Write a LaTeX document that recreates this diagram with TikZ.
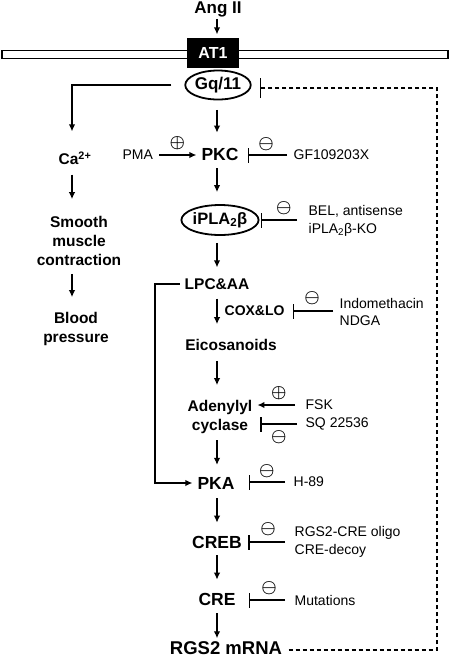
\documentclass[tikz,border=0pt]{standalone}
\usepackage{amsmath}
\usepackage{fontspec}
\setmainfont{Liberation Sans}
\usetikzlibrary{arrows.meta,shapes.geometric}

\begin{document}
\begin{tikzpicture}[x=1pt,y=-1pt,line width=1.3pt,>={Latex[length=7pt,width=6.5pt]}]
    \tikzstyle{big}=[inner sep=0pt, font=\fontsize{17.5}{19}\selectfont\bfseries]
    \tikzstyle{mid}=[inner sep=0pt, align=center, font=\fontsize{15.5}{19}\selectfont\bfseries]
    \tikzstyle{drug}=[inner sep=0pt, anchor=west, align=left, font=\fontsize{14}{17.5}\selectfont]
    \tikzstyle{oval}=[draw, ellipse, line width=1.8pt, inner sep=0pt, font=\fontsize{17}{19}\selectfont\bfseries]
    \tikzstyle{sign}=[inner sep=0pt, font=\fontsize{17}{17}\selectfont]
    \tikzstyle{go}=[->]
    \tikzstyle{stop}=[-{Bar[width=15pt]}]

    \useasboundingbox (0,0) rectangle (450,657);
    \coordinate (axis) at (217,0);
    \coordinate (leftaxis) at (72,0);
    \coordinate (rail) at (155,0);
    \coordinate (loop) at (437,0);

    \node[draw, fill=white, minimum width=446pt, minimum height=7.5pt, inner sep=0pt] (membrane) at (225,54.5) {};
    \node[big, anchor=base, font=\fontsize{17}{19}\selectfont\bfseries] (ang) at (218,13) {Ang II};
    \node[fill=black, text=white, minimum width=52pt, minimum height=30pt, inner sep=0pt,
          font=\fontsize{16}{19}\selectfont\bfseries] (at1) at (213,53) {AT1};
    \node[oval, minimum width=60pt, minimum height=29pt] (gq) at (218,85) {Gq/11};

    \node[mid] (ca) at (75,158) {Ca\textsuperscript{2+}};
    \node[mid] (smooth) at (79,241) {Smooth\\muscle\\contraction};
    \node[mid] (blood) at (76,329) {Blood\\pressure};

    \node[drug] (pma) at (122,155) {PMA};
    \node[big] (pkc) at (220,154) {PKC};
    \node[drug] (gf) at (293,155) {GF109203X};
    \node[oval, minimum width=69pt, minimum height=30pt, font=\fontsize{16.5}{19}\selectfont\bfseries] (ipla) at (220,220) {iPLA\textsubscript{2}β};
    \node[drug] (bel) at (308,221) {BEL, antisense\\iPLA\textsubscript{2}β-KO};
    \node[mid] (lpc) at (217,284) {LPC\&AA};
    \node[drug] (indo) at (339,312) {Indomethacin\\NDGA};
    \node[mid] (eico) at (231,345) {Eicosanoids};
    \node[mid] (ac) at (220,417) {Adenylyl\\cyclase};
    \node[drug] (fsk) at (305,405) {FSK};
    \node[drug] (sq) at (305,424) {SQ 22536};
    \node[big] (pka) at (216,483) {PKA};
    \node[drug] (h89) at (293,482) {H-89};
    \node[big] (creb) at (217,542) {CREB};
    \node[drug] (oligo) at (294,542) {RGS2-CRE oligo\\CRE-decoy};
    \node[big] (cre) at (217,599) {CRE};
    \node[drug] (mut) at (294,600) {Mutations};
    \node[big, font=\fontsize{18.5}{19}\selectfont\bfseries] (rgs) at (226,648) {RGS2 mRNA};

    \path[go]
     (ang.south -| axis) edge[shorten <=1.5pt, shorten >=3pt] (at1.north -| axis)
     (gq.south -| axis) edge[shorten <=9.5pt, shorten >=14.5pt] (pkc.north -| axis)
     (pkc.south -| axis) edge[shorten <=7.5pt, shorten >=12pt] (ipla.north -| axis)
     (ipla.south -| axis) edge[shorten <=7pt, shorten >=10.5pt] (lpc.north -| axis)
     (lpc.south -| axis) edge[shorten <=8.5pt, shorten >=14.5pt]
        node[pos=0.43, anchor=west, xshift=7pt, inner sep=0pt, font=\fontsize{14}{17}\selectfont\bfseries] (cox) {COX\&LO}
        (eico.north -| axis)
     (eico.south -| axis) edge[shorten <=9.5pt, shorten >=14.5pt] (ac.north -| axis)
     (ac.south -| axis) edge[shorten <=6pt, shorten >=11.5pt] (pka.north -| axis)
     (pka.south -| axis) edge[shorten <=8.5pt, shorten >=12.5pt] (creb.north -| axis)
     (creb.south -| axis) edge[shorten <=6.5pt, shorten >=12.5pt] (cre.north -| axis)
     (cre.south -| axis) edge[shorten <=7.5pt, shorten >=2.5pt] (rgs.north -| axis)
     (ca.south -| leftaxis) edge[shorten <=9.5pt, shorten >=16.5pt] (smooth.north -| leftaxis)
     (smooth.south -| leftaxis) edge[shorten <=7.5pt, shorten >=14.5pt] (blood.north -| leftaxis)
     (pma.east) edge[shorten <=5.5pt, shorten >=4.5pt] node[sign, midway, yshift=12pt] {$\boldsymbol\oplus$} (pma.east -| pkc.west)
     (fsk.west) edge[shorten <=10pt, shorten >=4.5pt] node[sign, midway, yshift=12pt] {$\boldsymbol\oplus$} (fsk.west -| ac.east)
     ;
    \path[stop]
     (gf.west) edge[shorten <=6pt, shorten >=8.5pt] node[sign, midway, yshift=11pt] {$\boldsymbol\ominus$} (gf.west -| pkc.east)
     (bel.west |- ipla) edge[shorten <=11pt, shorten >=1.5pt] node[sign, midway, yshift=12pt] {$\boldsymbol\ominus$} (ipla.east)
     (indo.west |- cox) edge[shorten <=6pt, shorten >=8pt] node[sign, midway, yshift=13pt] {$\boldsymbol\ominus$} (cox.east)
     (sq.west) edge[shorten <=8pt, shorten >=7.5pt] node[sign, midway, yshift=-13pt] {$\boldsymbol\ominus$} (sq.west -| ac.east)
     (h89.west) edge[shorten <=8pt, shorten >=13.5pt] node[sign, pos=0.45, yshift=11pt] {$\boldsymbol\ominus$} (h89.west -| pka.east)
     (oligo.west |- creb) edge[shorten <=9pt, shorten >=6pt] node[sign, midway, yshift=13pt] {$\boldsymbol\ominus$} (creb.east)
     (mut.west) edge[shorten <=9pt, shorten >=12.5pt] node[sign, pos=0.43, yshift=12pt] {$\boldsymbol\ominus$} (mut.west -| cre.east)
     ;

    \draw[go, shorten <=13pt, shorten >=19.5pt] (gq.west) -| (ca.north -| leftaxis);
    \draw[go, shorten <=4.5pt, shorten >=4.5pt] (lpc.west) -- (lpc.west -| rail) |- (pka.west);
    \draw[-{Bar[width=20pt]}, dash pattern=on 4pt off 3pt, shorten <=6pt, shorten >=8pt] ([yshift=-2pt]rgs.east) -- ([yshift=-2pt]rgs.east -| loop) |- ([yshift=-3pt]gq.east);
\end{tikzpicture}
\end{document}
